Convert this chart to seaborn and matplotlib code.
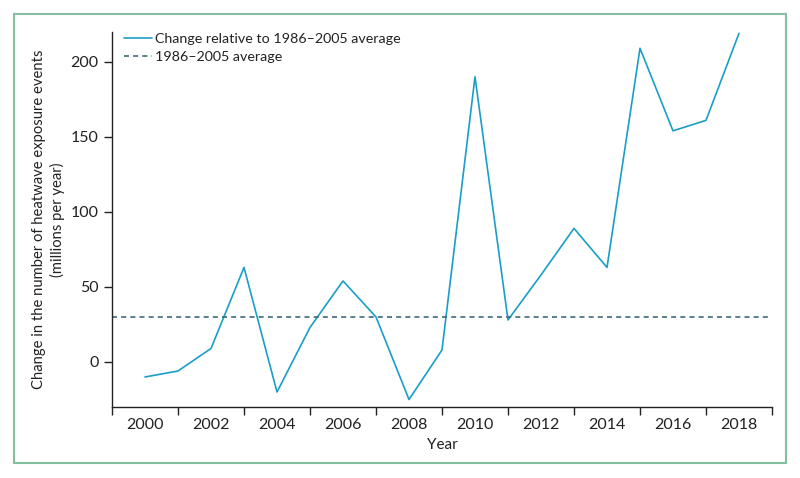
import matplotlib
matplotlib.use('Agg')
import numpy as np
import pandas as pd
import seaborn as sns
import matplotlib.pyplot as plt
from matplotlib.patches import Rectangle
from matplotlib.ticker import MultipleLocator

years = list(range(2000, 2019))
change = [-10, -6, 9, 63, -20, 23, 54, 30, -25, 8, 190, 28, 58, 89, 63, 209, 154, 161, 219]
baseline = 30
year_labels = [str(y) for y in range(2000, 2019, 2)]

df = pd.DataFrame({'Year': years, 'Change': change})

sns.set_style('ticks')
plt.rcParams['font.family'] = ['Lato', 'DejaVu Sans']

fig = plt.figure(figsize=(8, 4.78), dpi=100)
ax = fig.add_axes([0.14, 0.1485, 0.825, 0.785])

sns.lineplot(data=df, x='Year', y='Change', ax=ax, color='#1a9ec8', linewidth=1.2,
             label='Change relative to 1986\u20132005 average')
ax.axhline(baseline, color='#3f6b78', linewidth=1.2, linestyle=(0, (3, 2.5)),
           label='1986\u20132005 average')

ax.set_xlim(1999, 2019)
ax.set_ylim(-30, 220)
ax.set_xticks(range(2000, 2019, 2))
ax.set_xticklabels(year_labels)
ax.xaxis.set_minor_locator(MultipleLocator(2, offset=1))
ax.tick_params(axis='x', which='major', length=0, labelsize=11.5, pad=8, colors='#222222')
ax.tick_params(axis='x', which='minor', length=6, width=1, direction='out', color='#222222')
ax.tick_params(axis='y', which='major', length=6, width=1, labelsize=11.5, colors='#222222')
ax.set_yticks([0, 50, 100, 150, 200])

for s in ['top', 'right']:
    ax.spines[s].set_visible(False)
for s in ['left', 'bottom']:
    ax.spines[s].set_linewidth(1)
    ax.spines[s].set_color('#222222')

ax.set_xlabel('Year', fontsize=11, color='#222222', labelpad=4)
ax.set_ylabel('Change in the number of heatwave exposure events\n(millions per year)',
              fontsize=10.6, color='#222222', labelpad=4, linespacing=1.35)

leg = ax.legend(loc='upper left', frameon=False, fontsize=10.3, handlelength=2.0,
                handletextpad=0.15, borderaxespad=0.2, labelspacing=0.45,
                bbox_to_anchor=(0.005, 1.02))
for t in leg.get_texts():
    t.set_color('#222222')

fig.patches.append(Rectangle((14 / 800, 15 / 478), 772 / 800, 449 / 478,
                             transform=fig.transFigure, fill=False,
                             edgecolor='#84c0a0', linewidth=1.5))

fig.savefig('out.png', dpi=100)
